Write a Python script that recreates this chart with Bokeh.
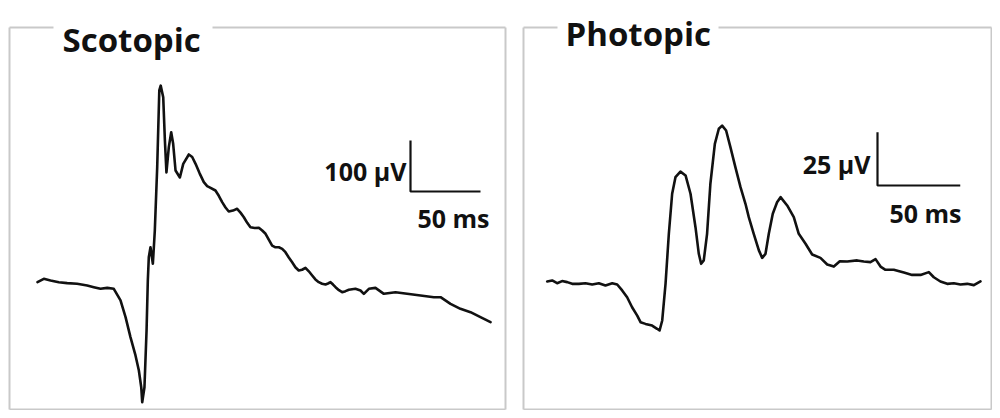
from bokeh.plotting import figure
from bokeh.layouts import row
from bokeh.models import Range1d, Label
from bokeh.embed import file_html
from bokeh.resources import INLINE

# ---------------- data (time in ms, amplitude in µV) ----------------
scot_t = [0, 4.5, 9.3, 15.2, 21.2, 28.3, 35.5, 40.2, 45.0, 49.8,
          54.5, 59.3, 62.9, 66.4, 70.0, 72.4, 74.1, 74.8, 76.4, 77.9,
          78.8, 79.5, 80.7, 82.4, 83.1, 83.8, 85.5, 87.0, 88.0, 89.8,
          91.0, 92.1, 93.8, 95.5, 96.9, 98.6, 101.7, 104.1, 108.1, 110.5,
          112.9, 115.8, 118.8, 121.2, 123.6, 127.1, 129.5, 131.9, 134.3, 136.6,
          139.6, 142.6, 145.0, 147.4, 149.8, 152.1, 155.1, 158.1, 160.5, 162.9,
          165.2, 167.6, 170.0, 172.4, 174.8, 177.1, 179.5, 181.9, 184.2, 186.6,
          189.0, 191.4, 193.8, 196.2, 198.5, 200.9, 203.3, 205.7, 207.5, 209.3,
          211.1, 212.9, 215.3, 217.6, 220.0, 222.4, 227.1, 230.7, 233.1, 236.7,
          241.4, 247.4, 255.7, 264.0, 273.6, 283.1, 287.9, 295.0, 302.1, 309.3,
          316.4, 323.6]
scot_v = [0.6, 7.2, 3.9, 0.6, -1.3, -2.6, -5.9, -9.2, -12.4, -10.5,
          -12.4, -35.0, -68.0, -107.0, -143.0, -172.5, -205.3, -234.7, -205.3, -94.1,
          3.9, 49.6, 69.2, 36.7, 69.2, 102.0, 226.1, 376.5, 386.0, 363.4,
          278.4, 216.0, 265.4, 294.7, 271.9, 219.6, 206.0, 232.7, 251.0, 246.0,
          232.7, 214.0, 196.7, 189.0, 185.7, 180.4, 170.0, 157.5, 147.0, 139.2,
          141.0, 144.5, 137.0, 128.0, 117.0, 108.4, 107.0, 107.3, 102.0, 95.5,
          84.0, 72.5, 69.0, 69.2, 66.0, 59.4, 49.0, 39.8, 30.0, 23.5,
          25.0, 28.8, 22.0, 13.7, 6.0, 0.6, -2.5, -3.9, -2.0, 0.6,
          -4.0, -9.2, -15.0, -19.0, -17.0, -14.3, -12.4, -15.7, -22.2, -12.4,
          -10.5, -22.2, -19.0, -22.2, -25.5, -28.8, -28.8, -41.8, -51.6, -58.2,
          -68.0, -77.8]

phot_t = [0, 3.0, 6.0, 9.0, 12.1, 15.1, 19.1, 23.1, 27.2, 31.2,
          35.2, 39.3, 42.3, 45.3, 48.3, 51.3, 54.4, 56.4, 59.4, 63.4,
          66.4, 67.9, 69.5, 71.5, 73.5, 75.5, 77.5, 80.5, 83.6, 86.6,
          89.6, 91.6, 93.0, 94.6, 96.6, 98.6, 101.3, 103.7, 105.7, 108.1,
          110.7, 113.7, 116.8, 119.8, 121.8, 124.8, 127.9, 129.9, 131.9, 133.9,
          136.3, 138.9, 141.0, 145.0, 149.0, 152.0, 156.1, 160.1, 165.1, 169.2,
          173.2, 176.8, 181.3, 187.3, 191.3, 195.3, 198.4, 201.4, 204.4, 209.4,
          215.5, 220.5, 225.6, 230.6, 233.6, 237.6, 241.7, 245.7, 249.7, 253.8,
          257.8, 261.8]
phot_v = [0, 0.5, -0.8, 0.2, -0.3, -1.1, -1.1, -0.8, -1.4, -0.8,
          -1.9, -0.8, -1.4, -4.2, -7.4, -12.1, -16.0, -19.1, -19.9, -20.7,
          -22.2, -23.0, -18.3, -1.1, 22.4, 41.2, 49.0, 51.6, 49.8, 41.2,
          25.5, 13.0, 8.3, 9.9, 22.4, 45.9, 64.6, 71.7, 73.2, 70.9,
          63.1, 53.7, 44.3, 36.5, 30.2, 22.4, 14.6, 11.1, 13.0, 22.4,
          31.8, 37.2, 39.6, 35.7, 30.2, 22.4, 17.7, 12.7, 11.1, 8.0,
          7.0, 9.5, 9.4, 9.9, 9.4, 9.1, 10.5, 7.0, 5.5, 5.5,
          4.2, 3.1, 3.1, 4.4, 2.0, 0.0, -1.1, -0.8, -1.4, -1.1,
          -1.7, 0.1]

titles = ["Scotopic", "Photopic"]
amp_bar_labels = ["100 µV", "25 µV"]
amp_bar_values = [100, 25]
time_bar_label = "50 ms"
time_bar_value = 50

# ---------------- layout (pixels) ----------------
PAGE_Y0, PAGE_Y1 = 0, 410
INK = "#111111"
BOX = "#c9c9c9"
FONT = "Open Sans"

panels = [
    dict(page_x=(0, 515), ox=37.0, oy=282.0, kx=1.40, ky=0.51,
         box=(9, 505, 27, 409), gap=(53, 212), title_xy=(62, 39),
         bar_xy=(410, 191), amp_lab=(406, 170), time_lab=(489, 217)),
    dict(page_x=(515, 992), ox=546.7, oy=281.0, kx=1.655, ky=2.13,
         box=(523, 991, 27, 409), gap=(557, 718), title_xy=(565, 33),
         bar_xy=(877, 185), amp_lab=(870, 163), time_lab=(961, 212)),
]


def make_panel(t, v, cfg, title, amp_label, amp_value):
    X0, X1 = cfg["page_x"]
    fx = lambda X: (X - cfg["ox"]) / cfg["kx"]
    fy = lambda Y: (cfg["oy"] - Y) / cfg["ky"]
    p = figure(width=X1 - X0, height=PAGE_Y1 - PAGE_Y0,
               x_range=Range1d(fx(X0), fx(X1)), y_range=Range1d(fy(PAGE_Y1), fy(PAGE_Y0)),
               output_backend="svg", toolbar_location=None, min_border=0)
    p.xaxis.visible = False
    p.yaxis.visible = False
    p.grid.visible = False
    p.outline_line_color = None
    p.background_fill_color = "white"
    p.border_fill_color = "white"

    # frame box with a gap for the title
    bl, br, bt, bb = cfg["box"]
    g0, g1 = cfg["gap"]
    x0s = [bl, br, bl, bl, g1]
    x1s = [bl, br, br, g0, br]
    y0s = [bt, bt, bb, bt, bt]
    y1s = [bb, bb, bb, bt, bt]
    p.segment(x0=[fx(a) for a in x0s], y0=[fy(a) for a in y0s],
              x1=[fx(a) for a in x1s], y1=[fy(a) for a in y1s],
              line_color=BOX, line_width=2)

    # trace
    p.line(t, v, line_color=INK, line_width=2.6, line_join="round", line_cap="round")

    # scale bar
    bx, by = cfg["bar_xy"]
    t0, v0 = fx(bx), fy(by)
    p.line([t0, t0, t0 + time_bar_value], [v0 + amp_value, v0, v0],
           line_color=INK, line_width=2.2)

    tx, ty = cfg["title_xy"]
    p.add_layout(Label(x=fx(tx), y=fy(ty), text=title, text_font=FONT,
                       text_font_style="bold", text_font_size="33px", text_color=INK,
                       text_align="left", text_baseline="alphabetic"))
    ax, ay = cfg["amp_lab"]
    p.add_layout(Label(x=fx(ax), y=fy(ay), text=amp_label, text_font=FONT,
                       text_font_style="bold", text_font_size="25px", text_color=INK,
                       text_align="right", text_baseline="alphabetic"))
    sx, sy = cfg["time_lab"]
    p.add_layout(Label(x=fx(sx), y=fy(sy), text=time_bar_label, text_font=FONT,
                       text_font_style="bold", text_font_size="25px", text_color=INK,
                       text_align="right", text_baseline="alphabetic"))
    return p


p1 = make_panel(scot_t, scot_v, panels[0], titles[0], amp_bar_labels[0], amp_bar_values[0])
p2 = make_panel(phot_t, phot_v, panels[1], titles[1], amp_bar_labels[1], amp_bar_values[1])

layout = row(p1, p2, spacing=0)
open("out.html", "w").write(file_html(layout, INLINE))
